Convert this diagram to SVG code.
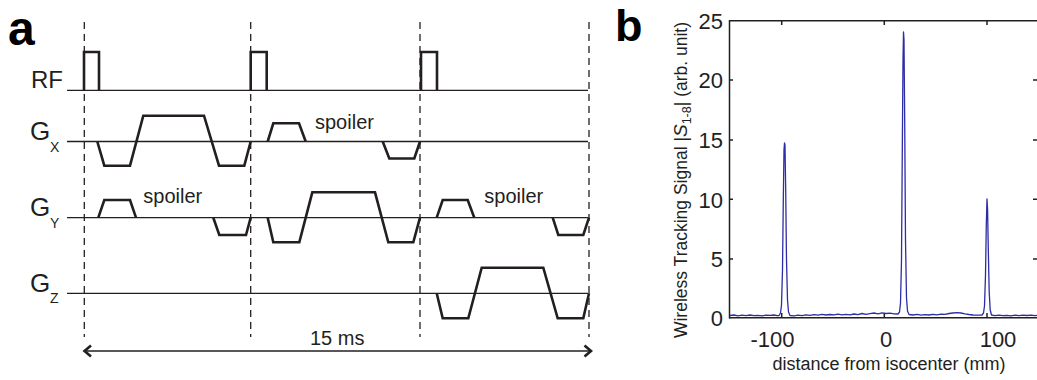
<svg xmlns="http://www.w3.org/2000/svg" width="1037" height="380" viewBox="0 0 1037 380">
<style>
.lbl{font-family:"Liberation Sans",Arial,sans-serif;fill:#231f20}
.panel{font-family:"Liberation Sans",Arial,sans-serif;font-weight:bold;fill:#000}
.base{stroke:#231f20;stroke-width:1.3;fill:none}
.wave{stroke:#231f20;stroke-width:2.6;fill:none;stroke-linejoin:miter}
.dash{stroke:#231f20;stroke-width:1.3;stroke-dasharray:7,5;fill:none}
.ax{stroke:#231f20;stroke-width:1.5;fill:none}
.sig{stroke:#2d2da6;stroke-width:1.3;fill:none;stroke-linejoin:round}
.tick{font-family:"Liberation Sans",Arial,sans-serif;font-size:22px;fill:#231f20}
</style>
<rect width="1037" height="380" fill="#fff"/>

<g id="panel-a">
  <text class="panel" x="8" y="45" font-size="48">a</text>

  <g id="dashed-markers">
    <line class="dash" x1="84.3" y1="22" x2="84.3" y2="337"/>
    <line class="dash" x1="250.7" y1="22" x2="250.7" y2="337"/>
    <line class="dash" x1="420" y1="22" x2="420" y2="337"/>
    <line class="dash" x1="589" y1="22" x2="589" y2="337"/>
  </g>

  <g id="rf">
    <text class="lbl" x="31" y="87.5" font-size="24">RF</text>
    <line class="base" x1="67" y1="90.3" x2="588" y2="90.3"/>
    <path class="wave" d="M84,90.3 L84,52 L99,52 L99,90.3"/>
    <path class="wave" d="M250.7,90.3 L250.7,52 L266.7,52 L266.7,90.3"/>
    <path class="wave" d="M421,90.3 L421,52 L437,52 L437,90.3"/>
  </g>

  <g id="gx">
    <text class="lbl" x="30" y="140" font-size="26">G<tspan font-size="14" x="50" y="151.5">X</tspan></text>
    <line class="base" x1="67" y1="141.5" x2="588" y2="141.5"/>
    <path class="wave" d="M97.3,141.5 L104.3,165.7 L130,165.7 L143.3,115.7 L204,115.7 L219,165.7 L244.3,165.7 L250.7,141.5"/>
    <path class="wave" d="M267.7,141.5 L273.3,123.3 L299,123.3 L305.7,141.5"/>
    <text class="lbl" x="315" y="128.5" font-size="20">spoiler</text>
    <path class="wave" d="M382.7,141.5 L389.3,158.5 L414.3,158.5 L420,141.5"/>
  </g>

  <g id="gy">
    <text class="lbl" x="30" y="216" font-size="26">G<tspan font-size="14" x="50" y="227.7">Y</tspan></text>
    <line class="base" x1="67" y1="217.7" x2="588" y2="217.7"/>
    <path class="wave" d="M98.3,217.7 L104.3,200 L130,200 L136,217.7"/>
    <text class="lbl" x="143.3" y="203.3" font-size="20">spoiler</text>
    <path class="wave" d="M213.3,217.7 L219.3,235 L246,235 L250.7,217.7"/>
    <path class="wave" d="M267.7,217.7 L273.3,242.3 L299.3,242.3 L312.3,192.3 L375,192.3 L388.3,242.3 L413.3,242.3 L420,217.7"/>
    <path class="wave" d="M436.7,217.7 L442.7,200 L467.7,200 L474.3,217.7"/>
    <text class="lbl" x="484.3" y="203.3" font-size="20">spoiler</text>
    <path class="wave" d="M552.7,217.7 L558.3,235 L583.3,235 L589,217.7"/>
  </g>

  <g id="gz">
    <text class="lbl" x="30" y="292" font-size="26">G<tspan font-size="14" x="50" y="303.3">Z</tspan></text>
    <line class="base" x1="67" y1="293.3" x2="588" y2="293.3"/>
    <path class="wave" d="M436.7,293.3 L442.7,318.3 L468.3,318.3 L481.7,267.7 L543.3,267.7 L557.7,318.3 L583.3,318.3 L589,293.3"/>
  </g>

  <g id="duration">
    <line class="base" x1="84" y1="351" x2="591" y2="351" stroke-width="1.6"/>
    <path class="wave" d="M91,345.5 L84.5,351 L91,356.5"/>
    <path class="wave" d="M584.5,345.5 L591,351 L584.5,356.5"/>
    <text class="lbl" x="310" y="345" font-size="20">15 ms</text>
  </g>
</g>

<g id="panel-b">
  <text class="panel" x="615" y="41" font-size="45">b</text>

  <g id="axes">
    <line class="ax" x1="729.5" y1="20.7" x2="1037" y2="20.7"/>
    <line class="ax" x1="729.5" y1="20" x2="729.5" y2="318.5"/>
    <line class="ax" x1="729" y1="317.7" x2="1037" y2="317.7" stroke-width="2.2"/>
    <path class="ax" stroke-width="1.2" d="M781.7,21 v4 M884.3,21 v4 M987,21 v4 M781.7,317 v-4 M884.3,317 v-4 M987,317 v-4 M730,80 h3 M730,140 h3 M730,199.3 h3 M730,259 h3 M1033,80 h4 M1033,140 h4 M1033,199.3 h4 M1033,259 h4"/>
  </g>

  <g id="y-ticks" text-anchor="end">
    <text class="tick" x="723" y="29">25</text>
    <text class="tick" x="723" y="88.3">20</text>
    <text class="tick" x="723" y="148">15</text>
    <text class="tick" x="723" y="207.5">10</text>
    <text class="tick" x="723" y="267">5</text>
    <text class="tick" x="723" y="326">0</text>
  </g>
  <g id="x-ticks" text-anchor="middle">
    <text class="tick" x="772.5" y="347">-100</text>
    <text class="tick" x="886" y="347">0</text>
    <text class="tick" x="998" y="347">100</text>
  </g>

  <text class="lbl" x="889" y="370" font-size="18" text-anchor="middle">distance from isocenter (mm)</text>
  <text class="lbl" font-size="17.5" text-anchor="middle" transform="translate(687,180) rotate(-90)">Wireless Tracking Signal |<tspan font-style="italic" font-size="19">S</tspan><tspan font-size="12.5" dy="4">1-8</tspan><tspan dy="-4">| (arb. unit)</tspan></text>

  <g id="signal">
    <polyline class="sig" points="730,315.5 734,315 738,315.8 742,315.2 746,315.6 750,315 754,315.7 758,315.3 762,315.8 766,315.2 770,315.4 774,315 777,315.6 779,315.5 780.5,313 781.5,305 782.5,270 783.3,200 784,150 784.5,143 785,145 785.7,190 786.5,260 787.5,300 788.5,312 790,315.5 794,315.8 798,315.2 802,315.6 806,314.8 810,315.4 814,314.6 818,315.2 822,314.4 826,315 830,314.5 834,314.9 838,314.2 842,314.8 846,314.3 850,314.9 854,314 858,314.6 862,313.5 866,314.3 870,313.6 874,313 878,313.8 882,312.8 886,313.5 890,313.2 894,313.8 898,314 899.5,312 900.5,303 901.5,260 902.3,150 903,60 903.5,32 904,40 904.7,120 905.5,240 906.5,298 907.5,311 909,314.5 913,315 917,314.3 921,315.2 925,314.6 929,315 933,314.3 937,314.8 941,314.2 945,314.4 949,313.5 953,313 957,312.6 961,313 965,313.8 969,314.5 973,315 977,315.2 982,315 983.5,313 984.5,306 985.5,275 986.3,225 987,199 987.6,210 988.3,250 989.2,292 990.2,310 991.5,315 995,315.6 999,315.2 1003,315.7 1007,315.3 1011,315.8 1015,315.2 1019,315.6 1023,315.1 1027,315.5 1031,315.2 1035,315.6 1037,315.4"/>
  </g>
</g>
</svg>
